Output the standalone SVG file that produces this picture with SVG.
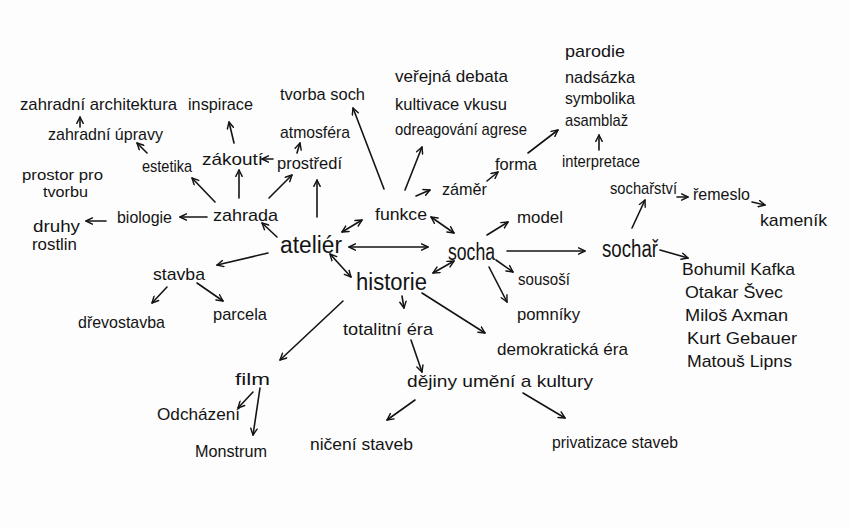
<svg xmlns="http://www.w3.org/2000/svg" width="850" height="527" viewBox="0 0 850 527">
<style>
  text { font-family: "Liberation Sans", "DejaVu Sans", sans-serif; fill: #141414; font-size: 17px; }
  text.big { font-size: 23px; }
  text.sm { font-size: 14px; }
  .c line { stroke: #141414; stroke-width: 1.6; stroke-linecap: round; fill: none; marker-end: url(#ah); }
  .c line.d { marker-start: url(#ah); }
</style>
<defs>
  <marker id="ah" viewBox="0 0 10 10" refX="9" refY="5" markerWidth="8" markerHeight="8" markerUnits="userSpaceOnUse" orient="auto-start-reverse">
    <path d="M1,1 L9,5 L1,9" fill="none" stroke="#141414" stroke-width="1.8" stroke-linecap="round" stroke-linejoin="round"/>
  </marker>
</defs>
<rect width="850" height="527" fill="#fdfdfd"/>

<g id="connectors" class="c">
  <line x1="80" y1="127" x2="80" y2="117"/>
  <line x1="147" y1="153" x2="137" y2="143"/>
  <line x1="234" y1="143" x2="229" y2="122"/>
  <line x1="273" y1="159" x2="262" y2="159"/>
  <line x1="297" y1="153" x2="300" y2="143"/>
  <line x1="215" y1="202" x2="192" y2="178"/>
  <line x1="239" y1="198" x2="239" y2="170"/>
  <line x1="269" y1="198" x2="292" y2="175"/>
  <line x1="317" y1="217" x2="317" y2="180"/>
  <line x1="207" y1="217" x2="180" y2="217"/>
  <line x1="106" y1="221" x2="86" y2="221"/>
  <line x1="277" y1="237" x2="262" y2="223"/>
  <line x1="268" y1="253" x2="217" y2="265"/>
  <line x1="167" y1="287" x2="152" y2="303"/>
  <line x1="197" y1="283" x2="223" y2="301"/>
  <line class="d" x1="342" y1="232" x2="362" y2="220"/>
  <line class="d" x1="349" y1="247" x2="428" y2="247"/>
  <line class="d" x1="330" y1="254" x2="351" y2="277"/>
  <line class="d" x1="431" y1="217" x2="454" y2="233"/>
  <line class="d" x1="433" y1="273" x2="454" y2="261"/>
  <line x1="384" y1="189" x2="353" y2="108"/>
  <line x1="405" y1="190" x2="422" y2="147"/>
  <line x1="416" y1="196" x2="430" y2="190"/>
  <line x1="487" y1="181" x2="498" y2="172"/>
  <line x1="528" y1="153" x2="558" y2="130"/>
  <line x1="599" y1="150" x2="599" y2="135"/>
  <line x1="487" y1="235" x2="508" y2="222"/>
  <line x1="507" y1="251" x2="585" y2="251"/>
  <line x1="496" y1="260" x2="513" y2="272"/>
  <line x1="489" y1="267" x2="507" y2="302"/>
  <line x1="422" y1="293" x2="485" y2="333"/>
  <line x1="402" y1="296" x2="404" y2="308"/>
  <line x1="632" y1="228" x2="645" y2="200"/>
  <line x1="677" y1="197" x2="688" y2="197"/>
  <line x1="752" y1="202" x2="765" y2="205"/>
  <line x1="660" y1="250" x2="688" y2="258"/>
  <line x1="343" y1="301" x2="280" y2="360"/>
  <line x1="411" y1="340" x2="422" y2="372"/>
  <line x1="253" y1="392" x2="238" y2="408"/>
  <line x1="260" y1="388" x2="253" y2="435"/>
  <line x1="415" y1="400" x2="387" y2="420"/>
  <line x1="523" y1="393" x2="565" y2="418"/>
</g>

<g id="zahradni-architektura"><text x="20" y="110" textLength="157" lengthAdjust="spacingAndGlyphs">zahradní architektura</text></g>
<g id="inspirace"><text x="188" y="110" textLength="65" lengthAdjust="spacingAndGlyphs">inspirace</text></g>
<g id="tvorba-soch"><text x="280" y="100" textLength="85" lengthAdjust="spacingAndGlyphs">tvorba soch</text></g>
<g id="verejna-debata"><text x="395" y="82" textLength="113" lengthAdjust="spacingAndGlyphs">veřejná debata</text></g>
<g id="kultivace-vkusu"><text x="395" y="110" textLength="112" lengthAdjust="spacingAndGlyphs">kultivace vkusu</text></g>
<g id="odreagovani-agrese"><text x="395" y="135" textLength="132" lengthAdjust="spacingAndGlyphs">odreagování agrese</text></g>
<g id="parodie"><text x="565" y="57" textLength="60" lengthAdjust="spacingAndGlyphs">parodie</text></g>
<g id="nadsazka"><text x="565" y="83" textLength="70" lengthAdjust="spacingAndGlyphs">nadsázka</text></g>
<g id="symbolika"><text x="565" y="104" textLength="70" lengthAdjust="spacingAndGlyphs">symbolika</text></g>
<g id="asamblaz"><text x="565" y="126" textLength="63" lengthAdjust="spacingAndGlyphs">asamblaž</text></g>
<g id="zahradni-upravy"><text x="48" y="140" textLength="115" lengthAdjust="spacingAndGlyphs">zahradní úpravy</text></g>
<g id="atmosfera"><text x="280" y="138" textLength="70" lengthAdjust="spacingAndGlyphs">atmosféra</text></g>
<g id="zakouti"><text x="202" y="165" textLength="61" lengthAdjust="spacingAndGlyphs">zákoutí</text></g>
<g id="estetika"><text x="142" y="172" textLength="50" lengthAdjust="spacingAndGlyphs">estetika</text></g>
<g id="prostredi"><text x="277" y="169" textLength="65" lengthAdjust="spacingAndGlyphs">prostředí</text></g>
<g id="prostor-pro-tvorbu">
  <text class="sm" x="22" y="180" textLength="81" lengthAdjust="spacingAndGlyphs">prostor pro</text>
  <text class="sm" x="43" y="197" textLength="45" lengthAdjust="spacingAndGlyphs">tvorbu</text>
</g>
<g id="interpretace"><text x="562" y="167" textLength="78" lengthAdjust="spacingAndGlyphs">interpretace</text></g>
<g id="forma"><text x="495" y="170" textLength="42" lengthAdjust="spacingAndGlyphs">forma</text></g>
<g id="zamer"><text x="442" y="195" textLength="45" lengthAdjust="spacingAndGlyphs">záměr</text></g>
<g id="socharstvi"><text x="610" y="194" textLength="67" lengthAdjust="spacingAndGlyphs">sochařství</text></g>
<g id="remeslo"><text x="693" y="200" textLength="57" lengthAdjust="spacingAndGlyphs">řemeslo</text></g>
<g id="kamenik"><text x="760" y="226" textLength="67" lengthAdjust="spacingAndGlyphs">kameník</text></g>
<g id="zahrada"><text x="213" y="221" textLength="65" lengthAdjust="spacingAndGlyphs">zahrada</text></g>
<g id="biologie"><text x="117" y="223" textLength="55" lengthAdjust="spacingAndGlyphs">biologie</text></g>
<g id="druhy-rostlin">
  <text x="33" y="232" textLength="47" lengthAdjust="spacingAndGlyphs">druhy</text>
  <text x="32" y="250" textLength="45" lengthAdjust="spacingAndGlyphs">rostlin</text>
</g>
<g id="funkce"><text x="375" y="220" textLength="52" lengthAdjust="spacingAndGlyphs">funkce</text></g>
<g id="model"><text x="517" y="223" textLength="46" lengthAdjust="spacingAndGlyphs">model</text></g>
<g id="atelier"><text class="big" x="280" y="253" textLength="62" lengthAdjust="spacingAndGlyphs">ateliér</text></g>
<g id="socha"><text class="big" x="448" y="260" textLength="47" lengthAdjust="spacingAndGlyphs">socha</text></g>
<g id="sochar"><text class="big" x="602" y="257" textLength="56" lengthAdjust="spacingAndGlyphs">sochař</text></g>
<g id="historie"><text class="big" x="356" y="290" textLength="71" lengthAdjust="spacingAndGlyphs">historie</text></g>
<g id="stavba"><text x="153" y="280" textLength="52" lengthAdjust="spacingAndGlyphs">stavba</text></g>
<g id="sousosi"><text x="518" y="285" textLength="52" lengthAdjust="spacingAndGlyphs">sousoší</text></g>
<g id="bohumil-kafka"><text x="682" y="275" textLength="113" lengthAdjust="spacingAndGlyphs">Bohumil Kafka</text></g>
<g id="otakar-svec"><text x="685" y="298" textLength="98" lengthAdjust="spacingAndGlyphs">Otakar Švec</text></g>
<g id="milos-axman"><text x="685" y="321" textLength="103" lengthAdjust="spacingAndGlyphs">Miloš Axman</text></g>
<g id="kurt-gebauer"><text x="687" y="344" textLength="110" lengthAdjust="spacingAndGlyphs">Kurt Gebauer</text></g>
<g id="matous-lipns"><text x="687" y="367" textLength="105" lengthAdjust="spacingAndGlyphs">Matouš Lipns</text></g>
<g id="drevostavba"><text x="78" y="328" textLength="87" lengthAdjust="spacingAndGlyphs">dřevostavba</text></g>
<g id="parcela"><text x="213" y="320" textLength="54" lengthAdjust="spacingAndGlyphs">parcela</text></g>
<g id="totalitni-era"><text x="343" y="335" textLength="90" lengthAdjust="spacingAndGlyphs">totalitní éra</text></g>
<g id="pomniky"><text x="517" y="320" textLength="63" lengthAdjust="spacingAndGlyphs">pomníky</text></g>
<g id="demokraticka-era"><text x="497" y="355" textLength="131" lengthAdjust="spacingAndGlyphs">demokratická éra</text></g>
<g id="film"><text x="235" y="385" textLength="35" lengthAdjust="spacingAndGlyphs">film</text></g>
<g id="dejiny-umeni-a-kultury"><text x="407" y="387" textLength="186" lengthAdjust="spacingAndGlyphs">dějiny umění a kultury</text></g>
<g id="odchazeni"><text x="157" y="420" textLength="83" lengthAdjust="spacingAndGlyphs">Odcházení</text></g>
<g id="monstrum"><text x="195" y="457" textLength="72" lengthAdjust="spacingAndGlyphs">Monstrum</text></g>
<g id="niceni-staveb"><text x="310" y="450" textLength="103" lengthAdjust="spacingAndGlyphs">ničení staveb</text></g>
<g id="privatizace-staveb"><text x="552" y="448" textLength="126" lengthAdjust="spacingAndGlyphs">privatizace staveb</text></g>
</svg>
